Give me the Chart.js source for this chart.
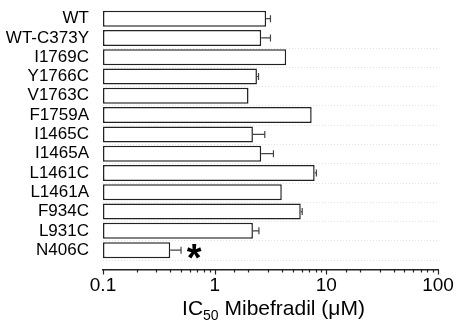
<!DOCTYPE html>
<html><head><meta charset="utf-8">
<script src="https://cdn.jsdelivr.net/npm/chart.js@4"></script>
<style>html,body{margin:0;padding:0;background:#fff;}#wrap{width:457px;height:322px;position:relative;}</style>
</head><body><div id="wrap"><canvas id="c"></canvas></div>
<script>
const categories = ['WT','WT-C373Y','I1769C','Y1766C','V1763C','F1759A','I1465C','I1465A','L1461C','L1461A','F934C','L931C','N406C'];
const ic50 = [2.89,2.61,4.37,2.39,2.01,7.39,2.20,2.61,7.86,3.99,5.90,2.20,0.40];
const errorUpper = [3.16,3.16,4.37,2.47,2.04,7.48,2.81,3.36,8.15,4.03,6.08,2.49,0.50];
const significant = [false,false,false,false,false,false,false,false,false,false,false,false,true];
const xTickLabels = [0.1,1,10,100];
const xTitleParts = ['IC','50',' Mibefradil (\u03bcM)'];
const FONT = '"Liberation Sans", Arial, sans-serif';

const isLabelTick = v => xTickLabels.some(t => Math.abs(Math.log10(v) - Math.log10(t)) < 1e-6);

const extras = {
  id: 'extras',
  beforeDatasetsDraw(chart) {
    const {ctx, chartArea, scales: {y}} = chart;
    ctx.save();
    ctx.strokeStyle = '#e2e2e2';
    ctx.lineWidth = 1;
    ctx.setLineDash([1, 2]);
    for (let i = 1; i < categories.length; i++) {
      const py = Math.round(y.getPixelForValue(i + 0.5)) + 0.5;
      ctx.beginPath(); ctx.moveTo(chartArea.left, py); ctx.lineTo(chartArea.right, py); ctx.stroke();
    }
    ctx.restore();
  },
  afterDatasetsDraw(chart) {
    const {ctx, chartArea, scales: {x, y}} = chart;
    ctx.save();
    ctx.strokeStyle = '#444';
    ctx.lineWidth = 1.2;
    ic50.forEach((v, i) => {
      const x0 = x.getPixelForValue(v), x1 = x.getPixelForValue(errorUpper[i]);
      const py = y.getPixelForValue(i);
      if (x1 - x0 < 0.8) return;
      ctx.beginPath(); ctx.moveTo(x0, py); ctx.lineTo(x1, py);
      ctx.moveTo(x1, py - 3.5); ctx.lineTo(x1, py + 3.5); ctx.stroke();
    });
    ctx.fillStyle = '#000';
    ctx.font = 'bold 38px ' + FONT;
    ctx.textAlign = 'center';
    ctx.textBaseline = 'alphabetic';
    significant.forEach((s, i) => {
      if (!s) return;
      const px = x.getPixelForValue(errorUpper[i]) + 13;
      ctx.fillText('*', px, y.getPixelForValue(i) + 21);
    });
    ctx.strokeStyle = '#222';
    ctx.lineWidth = 1.2;
    x.ticks.forEach(t => {
      const px = Math.round(x.getPixelForValue(t.value)) + 0.5;
      const len = isLabelTick(t.value) ? 4.5 : 2.5;
      ctx.beginPath(); ctx.moveTo(px, chartArea.bottom); ctx.lineTo(px, chartArea.bottom + len); ctx.stroke();
    });
    const big = '21px ' + FONT, small = '14px ' + FONT;
    ctx.font = big; const w0 = ctx.measureText(xTitleParts[0]).width;
    const w2 = ctx.measureText(xTitleParts[2]).width;
    ctx.font = small; const w1 = ctx.measureText(xTitleParts[1]).width;
    const total = w0 + w1 + w2;
    let sx = (chartArea.left + chartArea.right) / 2 + 3 - total / 2;
    const base = chartArea.bottom + 44.5;
    ctx.textAlign = 'left';
    ctx.fillStyle = '#000';
    ctx.font = big; ctx.fillText(xTitleParts[0], sx, base); sx += w0;
    ctx.font = small; ctx.fillText(xTitleParts[1], sx, base + 5); sx += w1;
    ctx.font = big; ctx.fillText(xTitleParts[2], sx, base);
    ctx.restore();
  }
};

new Chart(document.getElementById('c'), {
  type: 'bar',
  data: {
    datasets: [{
      data: ic50.map((v, i) => ({x: v, y: i})),
      backgroundColor: '#ffffff',
      borderColor: '#222',
      borderWidth: 1.5,
      borderSkipped: false,
      categoryPercentage: 1,
      barPercentage: 0.83
    }]
  },
  options: {
    indexAxis: 'y',
    responsive: true,
    maintainAspectRatio: false,
    animation: false,
    layout: {padding: {top: 9, bottom: 25.2, left: 0, right: 19}},
    plugins: {legend: {display: false}, tooltip: {enabled: false}},
    scales: {
      x: {
        type: 'logarithmic',
        min: 0.1, max: 100,
        grid: {display: true, drawOnChartArea: false, drawTicks: true, tickLength: 4, tickColor: 'rgba(0,0,0,0)'},
        border: {display: true, color: '#222', width: 1.5},
        ticks: {
          autoSkip: false, maxRotation: 0, padding: 0,
          color: '#000', font: {family: FONT, size: 19},
          callback: v => isLabelTick(v) ? String(xTickLabels.find(t => Math.abs(Math.log10(v) - Math.log10(t)) < 1e-6)) : ''
        }
      },
      y: {
        type: 'linear',
        reverse: true,
        offset: false,
        bounds: 'data',
        min: -0.5, max: 13.03,
        grid: {display: false, offset: false},
        border: {display: false},
        afterBuildTicks: s => { s.ticks = categories.map((_, i) => ({value: i})); },
        afterFit: s => { s.width = 103; s.paddingTop = 0; s.paddingBottom = 0; },
        ticks: {
          autoSkip: false, padding: 6,
          color: '#000', font: {family: FONT, size: 17, lineHeight: 1},
          callback: v => categories[v] !== undefined ? categories[v] : ''
        }
      }
    }
  },
  plugins: [extras]
});
</script></body></html>
